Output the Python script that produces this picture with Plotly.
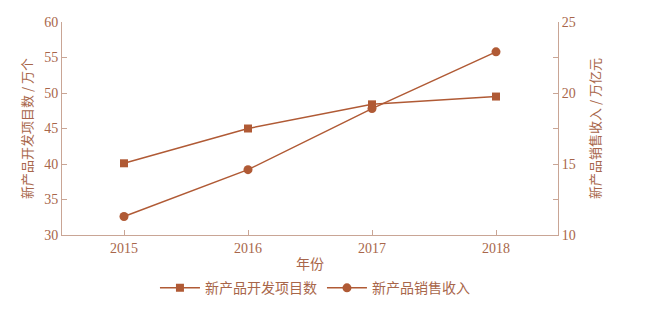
import plotly.graph_objects as go

years = [2015, 2016, 2017, 2018]
projects = [40.1, 45.0, 48.4, 49.5]       # 新产品开发项目数 / 万个
revenue = [11.3, 14.6, 18.9, 22.9]        # 新产品销售收入 / 万亿元

line_c = "#b05a35"
axis_c = "#c9a595"
text_c = "#a8664a"
font_fam = "Liberation Serif, Noto Sans CJK SC, serif"

fig = go.Figure()
fig.add_trace(go.Scatter(x=years, y=projects, name="新产品开发项目数", mode="lines+markers",
                         line=dict(color=line_c, width=1.5),
                         marker=dict(symbol="square", size=8, color=line_c)))
fig.add_trace(go.Scatter(x=years, y=revenue, name="新产品销售收入", mode="lines+markers",
                         yaxis="y2",
                         line=dict(color=line_c, width=1.5),
                         marker=dict(symbol="circle", size=9, color=line_c)))

fig.update_layout(
    width=654, height=309,
    margin=dict(l=62, r=96, t=22, b=74, autoexpand=False),
    paper_bgcolor="white", plot_bgcolor="white",
    font=dict(family=font_fam, color=text_c, size=14),
    showlegend=True,
    legend=dict(orientation="h", x=0.51, xanchor="center", y=-0.25, yanchor="middle",
                font=dict(size=14, family="Noto Sans CJK SC", color=text_c), itemwidth=40),
    xaxis=dict(range=[2014.5, 2018.5], tickvals=years, ticktext=[str(y) for y in years],
               showline=True, linecolor=axis_c, linewidth=1, ticks="inside", ticklen=5,
               tickcolor=axis_c, showgrid=False, zeroline=False,
               title=dict(text="年份", font=dict(size=14, family="Noto Sans CJK SC"), standoff=4)),
    yaxis=dict(range=[30, 60], dtick=5, showline=True, linecolor=axis_c, linewidth=1,
               ticks="inside", ticklen=5, tickcolor=axis_c, showgrid=False, zeroline=False,
               title=dict(text="新产品开发项目数 / 万个", font=dict(size=13, family="Noto Sans CJK SC"),
                          standoff=8)),
    yaxis2=dict(range=[10, 25], overlaying="y", side="right",
                tickvals=[10, 12.5, 15, 17.5, 20, 22.5, 25],
                ticktext=["10", "", "15", "", "20", "", "25"],
                showline=True, linecolor=axis_c, linewidth=1,
                ticks="inside", ticklen=5, tickcolor=axis_c, showgrid=False, zeroline=False,
                title=dict(text="新产品销售收入 / 万亿元", font=dict(size=13, family="Noto Sans CJK SC"),
                           standoff=16)),
)

fig.write_html("out.html")
